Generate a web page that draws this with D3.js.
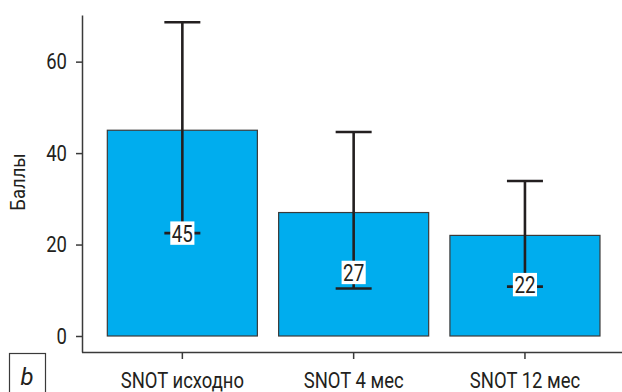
<!DOCTYPE html>
<html>
<head>
<meta charset="utf-8">
<script src="https://cdn.jsdelivr.net/npm/d3@7"></script>
<style>
  html, body { margin: 0; padding: 0; background: #fff; }
  svg { display: block; }
  text { font-family: "Roboto", "DejaVu Sans Condensed", sans-serif; fill: #231f20; }
</style>
</head>
<body>
<svg id="chart" width="622" height="392"></svg>
<script>
// SNOT scores: mean with lower/upper whisker ends
const categories = ["SNOT исходно", "SNOT 4 мес", "SNOT 12 мес"];
const means = [45, 27, 22];
const lowerBounds = [22.5, 10.4, 10.8];
const upperBounds = [68.6, 44.6, 33.9];
const yTicks = [0, 20, 40, 60];
const yTitle = "Баллы";
const panelTag = "b";

// narrow glyphs: horizontal squeeze applied to all chart text
const SQ = 0.84;

const svg = d3.select("#chart");

const x = d3.scaleBand()
  .domain(categories)
  .range([96.7, 610.6])
  .paddingInner(0.124)
  .paddingOuter(0.062);

const y = d3.scaleLinear()
  .domain([-3.5, 70.2])
  .range([352, 15]);

const axisX = 82;
const axisY = 352;

// bars
svg.append("g").selectAll("rect")
  .data(categories)
  .join("rect")
  .attr("x", d => x(d))
  .attr("width", x.bandwidth())
  .attr("y", (d, i) => y(means[i]))
  .attr("height", (d, i) => y(0) - y(means[i]))
  .attr("fill", "#00adee")
  .attr("stroke", "#3a3a3a")
  .attr("stroke-width", 1.2);

// error bars
const capHalf = 18;
const eb = svg.append("g").attr("stroke", "#231f20").attr("stroke-width", 2.6);
categories.forEach((c, i) => {
  const cx = x(c) + x.bandwidth() / 2;
  eb.append("line").attr("x1", cx).attr("x2", cx)
    .attr("y1", y(lowerBounds[i])).attr("y2", y(upperBounds[i]));
  eb.append("line").attr("x1", cx - capHalf).attr("x2", cx + capHalf)
    .attr("y1", y(upperBounds[i])).attr("y2", y(upperBounds[i]));
  eb.append("line").attr("x1", cx - capHalf).attr("x2", cx + capHalf)
    .attr("y1", y(lowerBounds[i])).attr("y2", y(lowerBounds[i]));
});

// value labels on white boxes at the lower whisker
const labelNudge = [0, -16, -2];
categories.forEach((c, i) => {
  const cx = x(c) + x.bandwidth() / 2;
  const cy = y(lowerBounds[i]) + labelNudge[i];
  const g = svg.append("g").attr("transform", `translate(${cx},${cy})`);
  const t = g.append("text")
    .attr("transform", `scale(${SQ - 0.04},1)`)
    .attr("y", 8.4)
    .attr("text-anchor", "middle")
    .attr("font-size", 23.5)
    .text(means[i]);
  const w = t.node().getComputedTextLength() * (SQ - 0.04);
  g.insert("rect", "text")
    .attr("x", -w / 2 - 1.5).attr("y", -11.7)
    .attr("width", w + 3).attr("height", 23.4)
    .attr("fill", "#fff");
});

// y axis
const yAxis = d3.axisLeft(y).tickValues(yTicks).tickSize(6).tickPadding(5).tickSizeOuter(0);
const gy = svg.append("g").attr("transform", `translate(${axisX},0)`).call(yAxis);
gy.select(".domain").attr("stroke", "#3a3a3a").attr("stroke-width", 1.5);
gy.selectAll(".tick line").attr("stroke", "#3a3a3a").attr("stroke-width", 1.5);
gy.selectAll(".tick text")
  .attr("font-size", 22).attr("fill", "#231f20").attr("font-family", null)
  .attr("x", -15 / SQ)
  .attr("transform", `scale(${SQ},1)`);

// x axis
const xAxis = d3.axisBottom(x).tickSize(7).tickPadding(13).tickSizeOuter(0);
const gx = svg.append("g").attr("transform", `translate(0,${axisY})`).call(xAxis);
gx.select(".domain").attr("d", `M${axisX},0.5H622`).attr("stroke", "#3a3a3a").attr("stroke-width", 1.5);
gx.selectAll(".tick line").attr("stroke", "#3a3a3a").attr("stroke-width", 1.5);
gx.selectAll(".tick text")
  .attr("font-size", 22).attr("fill", "#231f20").attr("font-family", null)
  .attr("transform", `scale(${SQ},1)`);

// y axis title
svg.append("text")
  .attr("transform", `translate(25,182) rotate(-90) scale(0.88,1)`)
  .attr("text-anchor", "middle")
  .attr("font-size", 21)
  .text(yTitle);

// panel tag
svg.append("rect")
  .attr("x", 9.5).attr("y", 353.5)
  .attr("width", 36).attr("height", 45)
  .attr("fill", "none").attr("stroke", "#3a3a3a").attr("stroke-width", 1.2);
svg.append("text")
  .attr("x", 27).attr("y", 385)
  .attr("text-anchor", "middle")
  .attr("font-size", 24)
  .attr("font-style", "italic")
  .text(panelTag);
</script>
</body>
</html>
